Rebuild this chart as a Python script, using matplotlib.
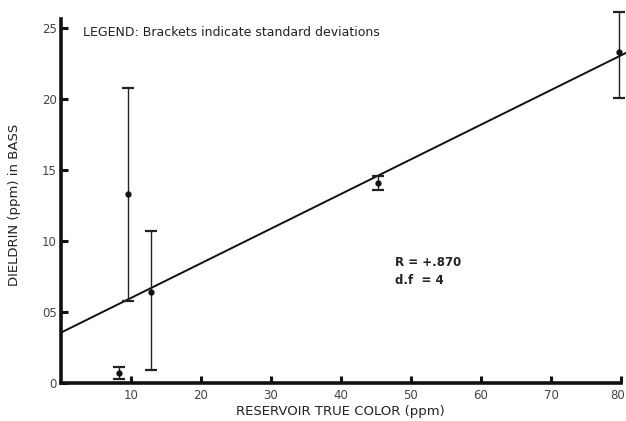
import matplotlib
matplotlib.use("Agg")
import matplotlib.pyplot as plt
import matplotlib.transforms as mtransforms
import numpy as np

# Reservoir true color (ppm) and dieldrin residues in bass (ppm)
color_ppm = [9.6, 12.9, 8.3, 45.3, 79.7]
dieldrin = [13.3, 6.4, 0.7, 14.1, 23.3]
sd_low = [7.5, 5.5, 0.4, 0.5, 3.2]
sd_high = [7.5, 4.3, 0.4, 0.5, 2.8]

# Fitted regression line
intercept = 3.55
slope = 0.244
fit_x = [0.0, 81.0]

x_ticks = [10, 20, 30, 40, 50, 60, 70, 80]
x_labels = ["10", "20", "30", "40", "50", "60", "70", "80"]
y_ticks = [0, 5, 10, 15, 20, 25]
y_labels = ["0", "05", "10", "15", "20", "25"]

fig = plt.figure(figsize=(6.26, 4.21), dpi=100)
ax = fig.add_axes([61 / 626, 38 / 421, 560 / 626, 373.5 / 421])

ax.set_xlim(0, 80)
ax.set_ylim(0, 26.3)

fx = np.array(fit_x)
ax.plot(fx, intercept + slope * fx, color="#111111", lw=1.4,
        clip_on=False, zorder=3)

ax.errorbar(color_ppm, dieldrin, yerr=[sd_low, sd_high], fmt="o",
            ms=3.5, color="#111111", ecolor="#222222", elinewidth=1.0,
            capsize=4, capthick=1.6, clip_on=False, zorder=4)

for side in ("top", "right"):
    ax.spines[side].set_visible(False)
for side in ("left", "bottom"):
    ax.spines[side].set_linewidth(2.6)
    ax.spines[side].set_color("#111111")
ax.spines["left"].set_bounds(0, 25.6)

ax.set_xticks(x_ticks)
ax.set_xticklabels(x_labels)
ax.set_yticks(y_ticks)
ax.set_yticklabels(y_labels)
ax.tick_params(axis="both", direction="in", length=5, width=2.2,
               colors="#111111", labelcolor="#444444", labelsize=8.5)
ax.tick_params(axis="x", pad=4)
ax.tick_params(axis="y", pad=3)

# keep the last tick label inside the canvas
last = ax.get_xticklabels()[-1]
last.set_transform(last.get_transform() +
                   mtransforms.ScaledTranslation(-3 / 100, 0, fig.dpi_scale_trans))

fig.text(340 / 626, 1 - 411 / 421, "RESERVOIR TRUE COLOR (ppm)",
         fontsize=9.5, color="#222222", ha="center", va="center")
fig.text(15 / 626, 1 - 205 / 421, "DIELDRIN (ppm) in BASS",
         fontsize=9.5, color="#222222", ha="center", va="center",
         rotation=90)

fig.text(83 / 626, 1 - 32 / 421, "LEGEND: Brackets indicate standard deviations",
         fontsize=9, color="#222222", va="center", ha="left")
fig.text(395 / 626, 1 - 262 / 421, "R = +.870", fontsize=8.5,
         fontweight="bold", color="#222222", va="center", ha="left")
fig.text(395 / 626, 1 - 281 / 421, "d.f  = 4", fontsize=8.5,
         fontweight="bold", color="#222222", va="center", ha="left")

fig.savefig("out.png", dpi=100, facecolor="white")
